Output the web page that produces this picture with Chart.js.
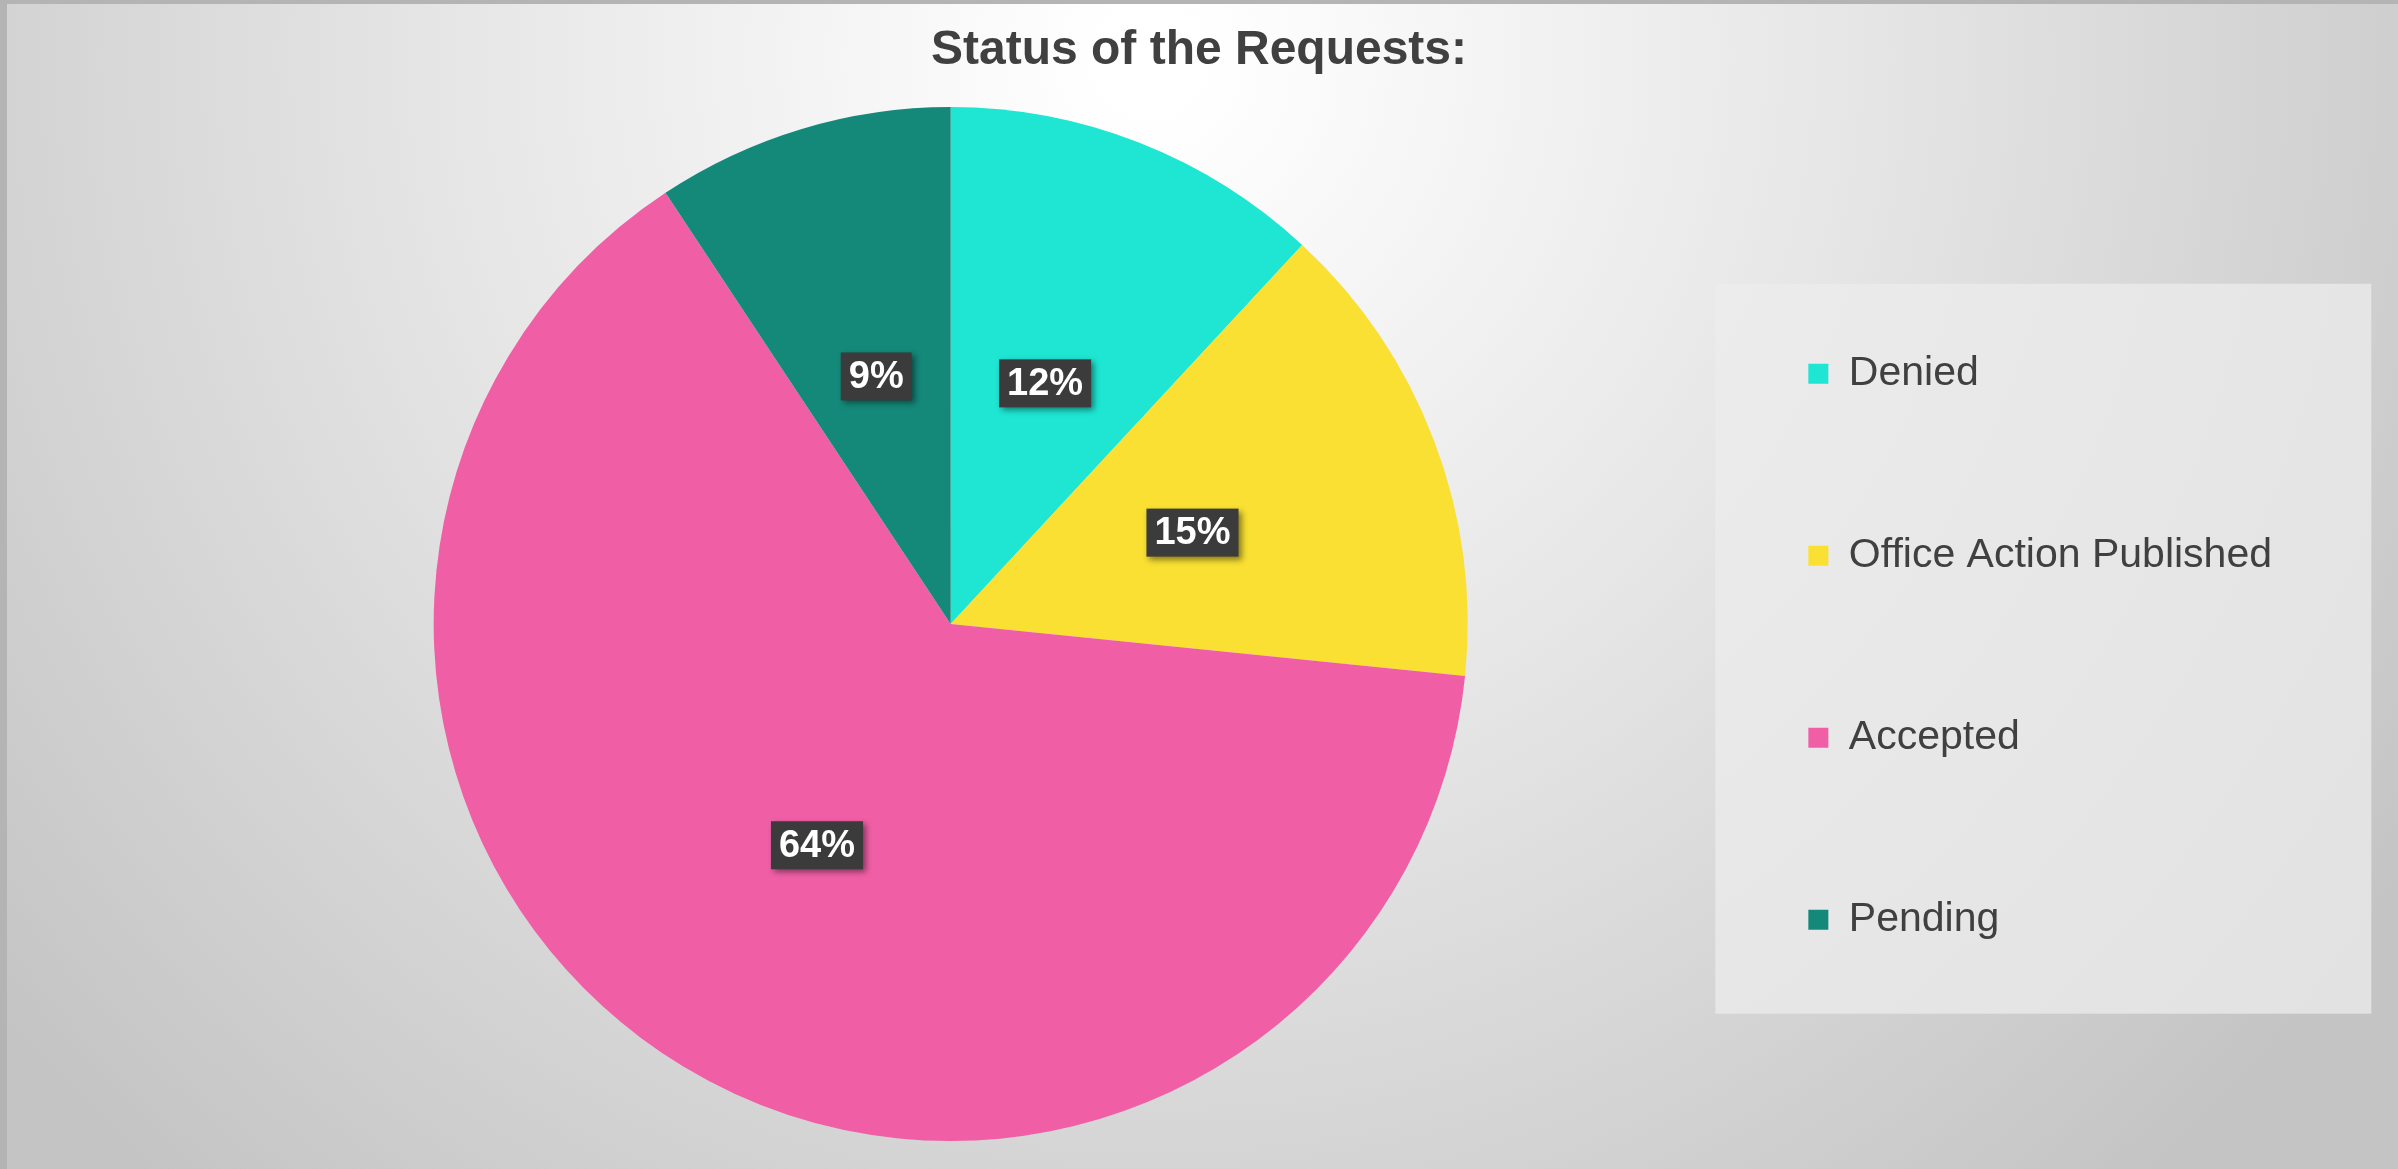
<!DOCTYPE html>
<html>
<head>
<meta charset="utf-8">
<script src="https://cdn.jsdelivr.net/npm/chart.js@4.4.1/dist/chart.umd.min.js"></script>
<style>
  html, body { margin: 0; padding: 0; }
  #wrap { width: 2398px; height: 1169px; position: relative; }
</style>
</head>
<body>
<div id="wrap"><canvas id="myChart"></canvas></div>
<script>
const chartTitle = 'Status of the Requests:';
const labels = ['Denied', 'Office Action Published', 'Accepted', 'Pending'];
// shares (labels round them)
const values = [11.9, 14.7, 64.1, 9.3];
const colors = ['#1ee6d2', '#f9e032', '#f05fa6', '#14897a'];

// page background (soft radial grey), legend panel and the centred title
const bgPlugin = {
  id: 'bg',
  beforeDraw(chart) {
    const { ctx, width, height } = chart;
    ctx.save();
    const g = ctx.createRadialGradient(1150, 60, 50, 1150, 60, 1500);
    g.addColorStop(0, '#ffffff');
    g.addColorStop(0.45, '#e6e6e6');
    g.addColorStop(1, '#c4c4c4');
    ctx.fillStyle = g;
    ctx.fillRect(0, 0, width, height);
    ctx.fillStyle = '#b4b4b4';
    ctx.fillRect(0, 0, width, 4);
    ctx.fillRect(0, 0, 7, height);

    const hb = chart.legend.legendHitBoxes;
    if (hb && hb.length) {
      const first = hb[0], last = hb[hb.length - 1];
      const x0 = first.left - 93;
      const y0 = first.top + first.height / 2 - 90;
      const y1 = last.top + last.height / 2 + 94;
      ctx.fillStyle = 'rgba(236,236,236,0.75)';
      ctx.fillRect(x0, y0, 656, y1 - y0);
    }

    ctx.fillStyle = '#404040';
    ctx.font = 'bold 48px "Liberation Sans", Arial, sans-serif';
    ctx.textAlign = 'center';
    ctx.textBaseline = 'middle';
    ctx.fillText(chartTitle, width / 2, 51);
    ctx.restore();
  }
};

// percentage boxes on the slices
const pctLabels = {
  id: 'pctLabels',
  afterDatasetsDraw(chart) {
    const { ctx } = chart;
    const meta = chart.getDatasetMeta(0);
    const total = values.reduce((a, b) => a + b, 0);
    ctx.save();
    ctx.font = 'bold 38px "Liberation Sans", Arial, sans-serif';
    ctx.textAlign = 'center';
    ctx.textBaseline = 'middle';
    meta.data.forEach((arc, i) => {
      const p = arc.tooltipPosition();
      const txt = Math.round(values[i] / total * 100) + '%';
      const w = ctx.measureText(txt).width + 16;
      const h = 48;
      ctx.shadowColor = 'rgba(0,0,0,0.45)';
      ctx.shadowBlur = 6;
      ctx.shadowOffsetX = 3;
      ctx.shadowOffsetY = 3;
      ctx.fillStyle = '#3b3b3b';
      ctx.fillRect(p.x - w / 2, p.y - h / 2, w, h);
      ctx.shadowColor = 'transparent';
      ctx.fillStyle = '#ffffff';
      ctx.fillText(txt, p.x, p.y + 1);
    });
    ctx.restore();
  }
};

const ctx = document.getElementById('myChart').getContext('2d');
const myChart = new Chart(ctx, {
  type: 'pie',
  data: {
    labels: labels,
    datasets: [{
      data: values,
      backgroundColor: colors,
      borderWidth: 0
    }]
  },
  options: {
    responsive: true,
    maintainAspectRatio: false,
    animation: false,
    layout: {
      padding: { left: 234, right: 116, top: 107, bottom: 28 }
    },
    plugins: {
      title: { display: false },
      legend: {
        position: 'right',
        align: 'start',
        // empty title only used as top spacing for the legend rows
        title: { display: true, text: ' ', font: { size: 1 }, padding: { top: 52, bottom: 52 } },
        labels: {
          boxWidth: 20,
          boxHeight: 20,
          padding: 141,
          color: '#404040',
          font: { family: '"Liberation Sans", Arial, sans-serif', size: 41 }
        }
      },
      tooltip: { enabled: false }
    }
  },
  plugins: [bgPlugin, pctLabels]
});
</script>
</body>
</html>
